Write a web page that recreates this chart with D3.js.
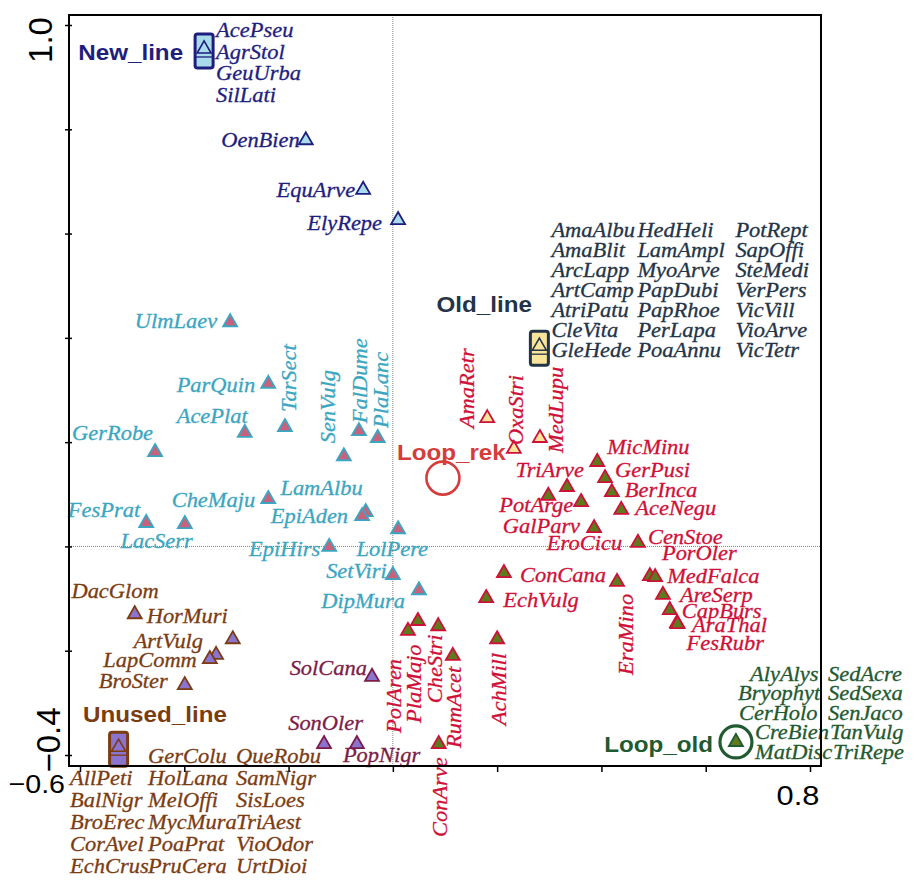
<!DOCTYPE html>
<html>
<head>
<meta charset="utf-8">
<script src="https://cdn.jsdelivr.net/npm/d3@7"></script>
<style>
  body { margin: 0; background: #fff; }
  svg { display: block; }
  .sp { font-family: "Liberation Serif", "Times New Roman", Times, serif; font-style: italic; font-size: 21px; stroke-width: 0.3px; }
  .grp { font-family: "Liberation Sans", Arial, sans-serif; font-weight: bold; font-size: 22px; }
  .axlab { font-family: "Liberation Sans", Arial, sans-serif; fill: #000; }
</style>
</head>
<body>
<svg id="chart" width="914" height="881"></svg>
<script>
// ---- Axis ticks (ordination axes 1 and 2) ----
const xTicks = [-0.6, -0.4, -0.2, 0.0, 0.2, 0.4, 0.6, 0.8];
const yTicks = [-0.4, -0.2, 0.0, 0.2, 0.4, 0.6, 0.8, 1.0];

// ---- Species scores plotted individually, by group ----
const newNames = ["OenBien", "EquArve", "ElyRepe"];
const newX = [-0.167, -0.057, 0.010];
const newY = [0.779, 0.684, 0.626];

const rekNames = ["AmaRetr", "OxaStri", "MedLupu"];
const rekX = [0.181, 0.232, 0.282];
const rekY = [0.246, 0.187, 0.208];

const redNames = ["MicMinu", "GerPusi", "BerInca", "AceNegu", "TriArve", "PotArge", "GalParv", "EroCicu",
  "CenStoe", "PorOler", "MedFalca", "AreSerp", "CapBurs", "AraThal", "FesRubr", "EraMino",
  "ConCana", "EchVulg", "PolAren", "PlaMajo", "CheStri", "RumAcet", "AchMill", "ConArve"];
const redX = [0.392, 0.407, 0.420, 0.438, 0.334, 0.298, 0.361, 0.386,
  0.470, 0.493, 0.503, 0.518, 0.531, 0.545, 0.546, 0.430,
  0.213, 0.179, 0.029, 0.048, 0.087, 0.115, 0.200, 0.088];
const redY = [0.162, 0.131, 0.104, 0.070, 0.114, 0.097, 0.085, 0.035,
  0.007, -0.057, -0.059, -0.093, -0.122, -0.147, -0.149, -0.068,
  -0.051, -0.099, -0.162, -0.143, -0.153, -0.210, -0.178, -0.379];

const cyanNames = ["UlmLaev", "ParQuin", "TarSect", "AcePlat", "GerRobe", "SenVulg", "FalDume", "PlaLanc",
  "CheMaju", "LamAlbu", "EpiAden", "FesPrat", "LacSerr", "EpiHirs", "LolPere", "SetViri", "DipMura"];
const cyanX = [-0.312, -0.239, -0.207, -0.284, -0.456, -0.094, -0.065, -0.029,
  -0.239, -0.052, -0.059, -0.473, -0.399, -0.122, 0.010, 0.000, 0.050];
const cyanY = [0.430, 0.312, 0.229, 0.218, 0.181, 0.173, 0.221, 0.208,
  0.091, 0.066, 0.058, 0.045, 0.043, -0.001, 0.033, -0.055, -0.084];

const brownNames = ["DacGlom", "HorMuri", "ArtVulg", "LapComm", "BroSter"];
const brownX = [-0.495, -0.307, -0.339, -0.351, -0.399];
const brownY = [-0.130, -0.178, -0.208, -0.216, -0.266];

const maroonNames = ["SolCana", "SonOler", "PopNigr"];
const maroonX = [-0.040, -0.132, -0.069];
const maroonY = [-0.250, -0.379, -0.379];

// ---- Sample centroids and the species sharing each position ----
const centroidNames = ["New_line", "Old_line", "Unused_line", "Loop_old", "Loop_rek"];
const centroidX = [-0.362, 0.281, -0.526, 0.658, 0.096];
const centroidY = [0.954, 0.384, -0.385, -0.375, 0.131];

const newLineList = [["AcePseu", "AgrStol", "GeuUrba", "SilLati"]];
const oldLineList = [
  ["AmaAlbu", "AmaBlit", "ArcLapp", "ArtCamp", "AtriPatu", "CleVita", "GleHede"],
  ["HedHeli", "LamAmpl", "MyoArve", "PapDubi", "PapRhoe", "PerLapa", "PoaAnnu"],
  ["PotRept", "SapOffi", "SteMedi", "VerPers", "VicVill", "VioArve", "VicTetr"]];
const unusedLineList = [
  [null, "AllPeti", "BalNigr", "BroErec", "CorAvel", "EchCrus"],
  ["GerColu", "HolLana", "MelOffi", "MycMura", "PoaPrat", "PruCera"],
  ["QueRobu", "SamNigr", "SisLoes", "TriAest", "VioOdor", "UrtDioi"]];
const loopOldList = [
  ["AlyAlys", "Bryophyt", "CerHolo", "CreBien", "MatDisc"],
  ["SedAcre", "SedSexa", "SenJaco", "TanVulg", "TriRepe"]];

// ---- Styles ----
const C = {
  navy:   { text: "#1e1e7e", fill: "#a9dbea", stroke: "#1e1e7e" },
  rek:    { text: "#cf1038", fill: "#f8e49a", stroke: "#cf1038" },
  red:    { text: "#cf1038", fill: "#5d7a1c", stroke: "#cf1038" },
  cyan:   { text: "#3ba6c1", fill: "#c7627d", stroke: "#3ba6c1" },
  brown:  { text: "#7b3c12", fill: "#8b74cf", stroke: "#7b3c12" },
  maroon: { text: "#7c1c48", fill: "#8b74cf", stroke: "#7c1c48" },
  slate:  { text: "#233447", fill: "#f8e49a", stroke: "#233447" },
  green:  { text: "#1f5a30", fill: "#5d7a1c", stroke: "#1f5a30" },
  loopRek: "#d63c3c"
};
const STRETCH = 1.07;
const GRP_STRETCH = 1.1;

// label placement relative to the marker: [dx, dy, anchor, rotation]
const labelOffsets = {
  OenBien: [-6, 7, "end"], EquArve: [-8, 7, "end"], ElyRepe: [-16, 10, "end"],
  AmaRetr: [-13, 10, "start", -90], OxaStri: [9, -4, "start", -90], MedLupu: [23, 15, "start", -90],
  MicMinu: [10, -8, "start"], GerPusi: [10, -1, "start"], BerInca: [13, 5, "start"], AceNegu: [14, 5, "start"],
  TriArve: [17, -10, "end"], PotArge: [25, 16, "end"], GalParv: [-1, 31, "end"], EroCicu: [28, 22, "end"],
  CenStoe: [10, 1, "start"], PorOler: [12, -16, "start"], MedFalca: [12, 6, "start"], AreSerp: [17, 7, "start"],
  CapBurs: [12, 8, "start"], AraThal: [15, 9, "start"], FesRubr: [9, 26, "start"],
  EraMino: [16, 93, "start", -90], ConCana: [16, 9, "start"], EchVulg: [17, 9, "start"],
  PolAren: [-7, 102, "start", -90], PlaMajo: [3, 102, "start", -90], CheStri: [4, 77, "start", -90],
  RumAcet: [8, 92, "start", -90], AchMill: [9, 86, "start", -90], ConArve: [8, 93, "start", -90],
  UlmLaev: [-13, 6, "end"], ParQuin: [-13, 8, "end"], TarSect: [11, -15, "start", -90], AcePlat: [3, -10, "end"],
  GerRobe: [-2, -12, "end"], SenVulg: [-9, -13, "start", -90], FalDume: [8, -8, "start", -90],
  PlaLanc: [10, -10, "start", -90], CheMaju: [-13, 8, "end"], LamAlbu: [-3, -17, "end"], EpiAden: [-14, 7, "end"],
  FesPrat: [-6, -6, "end"], LacSerr: [8, 24, "end"], EpiHirs: [-9, 9, "end"], LolPere: [30, 27, "end"],
  SetViri: [-6, 3, "end"], DipMura: [-14, 18, "end"],
  DacGlom: [24, -16, "end"], HorMuri: [-5, -16, "end"], ArtVulg: [-13, -7, "end"], LapComm: [-13, 8, "end"],
  BroSter: [-17, 3, "end"],
  SolCana: [-5, -2, "end"], SonOler: [39, -14, "end"], PopNigr: [-14, 18, "start"]
};

// column layout of species lists beside each centroid
const listLayout = {
  New_line:    { list: newLineList, style: C.navy, colDx: [12], dy0: -12, step: 21.7 },
  Old_line:    { list: oldLineList, style: C.slate, colDx: [12, 98, 196], dy0: -109, step: 20 },
  Unused_line: { list: unusedLineList, style: C.brown, colDx: [-48.5, 29.5, 117.5], dy0: 16, step: 22 },
  Loop_old:    { list: loopOldList, style: C.green, colDx: [[14, 2, 3, 19, 19], [92, 92, 92, 94, 97]], dy0: -61, step: 19.5 }
};
// centroid marker and title placement
const centroidStyle = {
  New_line:    { kind: "box", st: C.navy, label: [-21, 11, "end"] },
  Old_line:    { kind: "box", st: C.slate, label: [-7.5, -34, "end"] },
  Unused_line: { kind: "box", st: C.brown, label: [-35.5, -25, "start"] },
  Loop_old:    { kind: "ring", st: C.green, label: [-23, 10, "end"] },
  Loop_rek:    { kind: "circle", st: { text: C.loopRek, stroke: C.loopRek }, label: [-46, -18, "start"] }
};

// ---- Scales and frame ----
const svg = d3.select("#chart");
const x = d3.scaleLinear().domain([xTicks[0], xTicks[xTicks.length - 1]]).range([80, 810]);
const y = d3.scaleLinear().domain([yTicks[0], yTicks[yTicks.length - 1]]).range([755, 25]);
const fx0 = x.range()[0] - 11, fx1 = x.range()[1] + 11;
const fy0 = y.range()[1] - 10, fy1 = y.range()[0] + 11;

// zero reference lines
svg.append("line").attr("x1", x(0)).attr("x2", x(0)).attr("y1", fy0).attr("y2", fy1)
  .attr("stroke", "#808080").attr("stroke-width", 1).attr("stroke-dasharray", "1,1");
svg.append("line").attr("x1", fx0).attr("x2", fx1).attr("y1", y(0)).attr("y2", y(0))
  .attr("stroke", "#808080").attr("stroke-width", 1).attr("stroke-dasharray", "1,1");

const tri = d3.symbol().type(d3.symbolTriangle).size(84);
const markers = svg.append("g");
const labels = svg.append("g");

function stretchText(g, px, py, rot, anchor, cls, color, txt, k) {
  const t = g.append("text")
    .attr("transform", `translate(${px},${py})${rot ? ` rotate(${rot})` : ""} scale(${k},1)`)
    .attr("text-anchor", anchor).attr("class", cls).attr("fill", color).text(txt);
  if (cls === "sp") t.attr("stroke", color);
}

function drawGroup(names, xs, ys, st) {
  names.forEach((n, i) => {
    markers.append("path").attr("d", tri())
      .attr("transform", `translate(${x(xs[i])},${y(ys[i])})`)
      .attr("fill", st.fill).attr("stroke", st.stroke).attr("stroke-width", 1.8);
    const [dx, dy, anchor, rot] = labelOffsets[n];
    stretchText(labels, x(xs[i]) + dx, y(ys[i]) + dy, rot, anchor, "sp", st.text, n, STRETCH);
  });
}

drawGroup(newNames, newX, newY, C.navy);
drawGroup(rekNames, rekX, rekY, C.rek);
drawGroup(redNames, redX, redY, C.red);
drawGroup(cyanNames, cyanX, cyanY, C.cyan);
drawGroup(brownNames, brownX, brownY, C.brown);
drawGroup(maroonNames, maroonX, maroonY, C.maroon);

// centroids
centroidNames.forEach((name, i) => {
  const px = x(centroidX[i]), py = y(centroidY[i]);
  const cs = centroidStyle[name];
  if (cs.kind === "box") {
    markers.append("rect").attr("x", px - 9).attr("y", py - 15).attr("width", 18).attr("height", 34)
      .attr("rx", 2.5).attr("fill", cs.st.fill).attr("stroke", cs.st.stroke).attr("stroke-width", 3);
    markers.append("line").attr("x1", px - 9).attr("x2", px + 9).attr("y1", py + 8).attr("y2", py + 8)
      .attr("stroke", cs.st.stroke).attr("stroke-width", 1.3);
    markers.append("path").attr("d", tri()).attr("transform", `translate(${px},${py})`)
      .attr("fill", cs.st.fill).attr("stroke", cs.st.stroke).attr("stroke-width", 1.6);
  } else if (cs.kind === "ring") {
    markers.append("circle").attr("cx", px).attr("cy", py).attr("r", 16)
      .attr("fill", "none").attr("stroke", cs.st.stroke).attr("stroke-width", 3.2);
    markers.append("path").attr("d", tri()).attr("transform", `translate(${px},${py})`)
      .attr("fill", cs.st.fill).attr("stroke", cs.st.stroke).attr("stroke-width", 1.8);
  } else {
    markers.append("circle").attr("cx", px).attr("cy", py).attr("r", 16.5)
      .attr("fill", "none").attr("stroke", cs.st.stroke).attr("stroke-width", 2.6);
  }
  const [dx, dy, anchor] = cs.label;
  stretchText(labels, px + dx, py + dy, 0, anchor, "grp", cs.st.text, name, GRP_STRETCH);

  const lay = listLayout[name];
  if (lay) {
    lay.list.forEach((col, c) => {
      col.forEach((sp, r) => {
        if (!sp) return;
        const cdx = Array.isArray(lay.colDx[c]) ? lay.colDx[c][r] : lay.colDx[c];
        stretchText(labels, px + cdx, py + lay.dy0 + r * lay.step, 0, "start", "sp", lay.style.text, sp, STRETCH);
      });
    });
  }
});

// ---- Frame and axes ----
svg.append("rect").attr("x", fx0).attr("y", fy0).attr("width", fx1 - fx0).attr("height", fy1 - fy0)
  .attr("fill", "none").attr("stroke", "#000").attr("stroke-width", 2);

const gx = svg.append("g").attr("transform", `translate(0,${fy1})`)
  .call(d3.axisBottom(x).tickValues(xTicks).tickSizeOuter(0).tickFormat(""));
gx.select(".domain").remove();
gx.selectAll(".tick line").attr("y1", -1).attr("y2", 6).attr("stroke-width", 1.5);

const gy = svg.append("g").attr("transform", `translate(${fx0},0)`)
  .call(d3.axisLeft(y).tickValues(yTicks).tickSizeOuter(0).tickFormat(""));
gy.select(".domain").remove();
gy.selectAll(".tick line").attr("x1", -4).attr("x2", 3).attr("stroke-width", 1.5);

// end-of-axis value labels
const fmt = d3.format(".1f");
svg.append("text").attr("class", "axlab").attr("font-size", 33)
  .attr("transform", `translate(52,${y(yTicks[yTicks.length - 1]) + 15}) rotate(-90)`)
  .attr("text-anchor", "middle").text(fmt(yTicks[yTicks.length - 1]));
svg.append("text").attr("class", "axlab").attr("font-size", 33)
  .attr("transform", `translate(60,${y(yTicks[0]) - 15}) rotate(-90)`)
  .attr("text-anchor", "middle").text(fmt(yTicks[0]));
svg.append("text").attr("class", "axlab").attr("font-size", 26)
  .attr("transform", `translate(${x(xTicks[0]) - 15},793) scale(1.1,1)`)
  .attr("text-anchor", "end").text(fmt(xTicks[0]));
svg.append("text").attr("class", "axlab").attr("font-size", 28)
  .attr("transform", `translate(${x(xTicks[xTicks.length - 1]) - 12},805) scale(1.1,1)`)
  .attr("text-anchor", "middle").text(fmt(xTicks[xTicks.length - 1]));
</script>
</body>
</html>
